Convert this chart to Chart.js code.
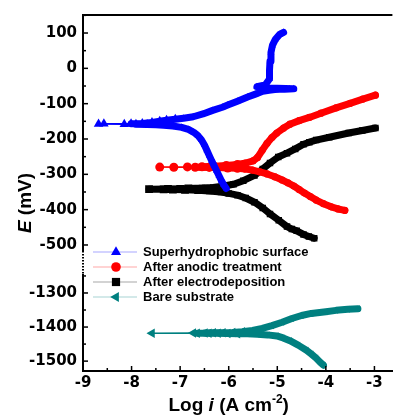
<!DOCTYPE html>
<html><head><meta charset="utf-8">
<script src="https://cdn.jsdelivr.net/npm/chart.js@4/dist/chart.umd.min.js"></script>
<style>html,body{margin:0;padding:0;background:#fff;overflow:hidden}canvas{display:block}</style>
</head><body>
<canvas id="c" width="397" height="417" style="width:397px;height:417px"></canvas>
<script>
// ---------- data ----------
const seriesNames = ['Superhydrophobic surface', 'After anodic treatment', 'After electrodeposition', 'Bare substrate'];
const xTickValues = [-9, -8, -7, -6, -5, -4, -3];
const yTopTickValues = [100, 0, -100, -200, -300, -400, -500];
const yBotTickValues = [-1300, -1400, -1500];

const superLogI = [-6.05,-6.1,-6.15,-6.2,-6.25,-6.3,-6.35,-6.4,-6.45,-6.5,-6.56,-6.63,-6.72,-6.83,-6.97,-7.15,-7.34,-7.5,-7.68,-7.91,-8.15,-8.68,
  -8.57,-8.01,-7.78,-7.58,-7.42,-7.28,-7.1,-6.93,-6.73,-6.53,-6.33,-6.13,-6.02,-5.82,-5.61,-5.45,-5.3,-5.17,-5.05,-4.95,-4.85,-4.75,-4.66,-5.35,-5.42,-5.25,-5.16,-5.16,-5.15,-5.13,-5.1,-5.04,-4.95,-4.87];
const superE = [-340,-330,-318,-304,-290,-276,-262,-247,-232,-217,-203,-191,-181,-173,-167,-163,-161,-160,-159,-158.5,-158,-157.5,
  -157,-156.5,-156,-153,-150,-147,-144,-141,-137,-129,-119,-110,-104,-93,-81,-73,-65,-62,-60,-59.5,-59,-58.5,-58,-55,-52,-47,-30,-5,20,45,65,82,96,102];

const anodicLogI = [-3.61,-3.75,-3.89,-4.05,-4.2,-4.32,-4.44,-4.55,-4.66,-4.78,-4.9,-5.05,-5.21,-5.36,-5.51,-5.67,-5.82,-6.02,-6.22,-6.4,-6.69,-7.13,
  -7.42,-6.85,-6.55,-6.3,-6.05,-5.82,-5.65,-5.5,-5.41,-5.31,-5.21,-5.11,-5.01,-4.87,-4.74,-4.55,-4.34,-4.1,-3.79,-3.5,-3.24,-2.98];
const anodicE = [-402,-398,-392,-383,-373,-363,-353,-343,-333,-324,-316,-307,-299,-293,-288,-285,-283,-282,-281,-280.5,-280,-280,
  -279.5,-279,-278.5,-277,-275,-272,-268,-262,-253,-232,-212,-196,-183,-169,-158,-148,-139,-127,-112,-99,-87,-76];

const electroLogI = [-4.24,-4.35,-4.46,-4.6,-4.7,-4.8,-4.97,-5.15,-5.3,-5.47,-5.65,-5.82,-6.0,-6.16,-6.4,-6.63,-6.9,-7.15,-7.34,-7.64,
  -7.25,-7.0,-6.83,-6.55,-6.32,-6.1,-5.9,-5.7,-5.47,-5.3,-5.15,-4.98,-4.8,-4.63,-4.46,-4.34,-4.2,-3.93,-3.53,-3.25,-2.98];
const electroE = [-481,-476,-470,-460,-455,-448,-430,-412,-395,-379,-367,-359,-354,-350,-347,-345,-344,-343,-342.5,-342,
  -341.5,-341,-340,-339,-337,-333,-328,-318,-303,-285,-268,-251,-240,-228,-215,-209,-203,-195,-183,-176,-169];

const bareLogI = [-4.05,-4.12,-4.2,-4.3,-4.4,-4.57,-4.74,-4.88,-5.01,-5.2,-5.41,-5.62,-5.82,-6.02,-6.22,-6.41,-6.65,-7.58,
  -6.73,-6.49,-6.32,-6.12,-5.92,-5.72,-5.51,-5.31,-5.11,-4.9,-4.7,-4.5,-4.3,-4.0,-3.79,-3.55,-3.34];
const bareE = [-1512,-1503,-1491,-1479,-1468,-1453,-1440,-1432,-1426,-1423,-1421,-1420,-1419.5,-1419,-1418.5,-1418.5,-1418,-1418,
  -1417.5,-1417.5,-1417,-1417,-1416,-1414,-1410,-1404,-1396,-1386,-1375,-1366,-1360,-1355,-1351,-1348,-1346];

// ---------- build ----------
const pts = (xs, ys) => xs.map((x, i) => ({x, y: ys[i]}));
const segWidth = (c) => {
  const ds = c.chart.data.datasets[c.datasetIndex];
  const a = ds.data[c.p0DataIndex].x, b = ds.data[c.p1DataIndex].x;
  return (a < ds.thinLeftOf && b < ds.thinLeftOf) ? 1.5 : 7;
};
function mkDs(label, data, color, style, rBig, rSmall, rot, thin, axis) {
  return {
    label, data, yAxisID: axis, showLine: true,
    borderColor: color, backgroundColor: color, borderWidth: 7,
    borderCapStyle: 'round', borderJoinStyle: 'round',
    pointStyle: style, pointRotation: rot,
    pointRadius: c => (c.raw && c.raw.x < c.dataset.thinLeftOf + 0.8) ? rBig : rSmall,
    legendRadius: rBig,
    pointBackgroundColor: color, pointBorderColor: color, pointBorderWidth: 0,
    thinLeftOf: thin,
    segment: { borderWidth: segWidth, borderColor: color, borderCapStyle: 'round', borderJoinStyle: 'round' }
  };
}
const datasets = [
  mkDs(seriesNames[0], pts(superLogI, superE), '#0000ff', 'triangle', 5.5, 4, 0, -7.85, 'yTop'),
  mkDs(seriesNames[1], pts(anodicLogI, anodicE), '#ff0000', 'circle', 4.5, 3.6, 0, -6.5, 'yTop'),
  mkDs(seriesNames[2], pts(electroLogI, electroE), '#000000', 'rect', 5.5, 4.6, 0, -7.4, 'yTop'),
  mkDs(seriesNames[3], pts(bareLogI, bareE), '#008080', 'triangle', 5.5, 4, -90, -6.45, 'yBot')
];

const tickFont = {family: 'DejaVu Sans', weight: 'bold', size: 15};
const setTicks = vals => s => { s.ticks = vals.map(v => ({value: v})); };

function marker(ctx, style, rot, x, y, r, color) {
  ctx.save(); ctx.fillStyle = color; ctx.translate(x, y); ctx.rotate(rot * Math.PI / 180);
  ctx.beginPath();
  if (style === 'circle') ctx.arc(0, 0, r, 0, Math.PI * 2);
  else if (style === 'rect') { const s = r * Math.SQRT1_2; ctx.rect(-s, -s, 2 * s, 2 * s); }
  else { for (let k = 0; k < 3; k++) { const a = k * 2 * Math.PI / 3; const px = Math.sin(a) * r, py = -Math.cos(a) * r; k ? ctx.lineTo(px, py) : ctx.moveTo(px, py); } ctx.closePath(); }
  ctx.fill(); ctx.restore();
}
function richText(ctx, parts, x, y) {
  let w = 0;
  parts.forEach(p => { ctx.font = p.font; w += ctx.measureText(p.t).width; });
  let cx = x - w / 2;
  parts.forEach(p => { ctx.font = p.font; ctx.fillText(p.t, cx, y - (p.up || 0)); cx += ctx.measureText(p.t).width; });
}

const decor = {
  id: 'decor',
  afterDraw(chart) {
    const ctx = chart.ctx, ca = chart.chartArea;
    const sx = chart.scales.x, st = chart.scales.yTop, sb = chart.scales.yBot;
    ctx.save();
    ctx.strokeStyle = '#000';
    // top frame
    ctx.lineWidth = 2;
    ctx.beginPath(); ctx.moveTo(ca.left - 1, ca.top); ctx.lineTo(ca.right, ca.top); ctx.stroke();
    // inward ticks (major + minor)
    ctx.lineWidth = 1.5;
    const yT = (s, v, len) => { const y = s.getPixelForValue(v); ctx.beginPath(); ctx.moveTo(ca.left, y); ctx.lineTo(ca.left + len, y); ctx.stroke(); };
    const xT = (v, len) => { const x = sx.getPixelForValue(v); ctx.beginPath(); ctx.moveTo(x, ca.bottom); ctx.lineTo(x, ca.bottom - len); ctx.stroke(); };
    yTopTickValues.forEach(v => { yT(st, v, 5); yT(st, v + 50, 3); });
    yBotTickValues.forEach(v => { yT(sb, v, 5); yT(sb, v + 50, 3); });
    xTickValues.forEach(v => { xT(v, 5); if (v < -3) xT(v + 0.5, 3); });
    // axis break
    ctx.fillStyle = '#fff';
    ctx.fillRect(ca.left - 3, 251, 6, 23);
    ctx.setLineDash([1.5, 1.5]); ctx.lineWidth = 2;
    ctx.beginPath(); ctx.moveTo(ca.left, 251); ctx.lineTo(ca.left, 274); ctx.stroke();
    ctx.setLineDash([]);
    // legend
    ctx.textBaseline = 'middle'; ctx.textAlign = 'left';
    chart.data.datasets.forEach((ds, i) => {
      const y = 252 + i * 15;
      ctx.save(); ctx.globalAlpha = 0.35; ctx.strokeStyle = ds.borderColor; ctx.lineWidth = 1;
      ctx.beginPath(); ctx.moveTo(93, y); ctx.lineTo(137, y); ctx.stroke(); ctx.restore();
      marker(ctx, ds.pointStyle, ds.pointRotation, 116, y, ds.legendRadius + 0.3, ds.borderColor);
      ctx.fillStyle = '#000'; ctx.font = 'bold 13px "Liberation Sans", Arial, sans-serif';
      ctx.fillText(ds.label, 143, y + 0.5);
    });
    // axis titles
    ctx.fillStyle = '#000'; ctx.textBaseline = 'alphabetic';
    const B = 'bold 19px "Liberation Sans", Arial, sans-serif', I = 'italic bold 19px "Liberation Sans", Arial, sans-serif', S = 'bold 12px "Liberation Sans", Arial, sans-serif';
    richText(ctx, [{t: 'Log ', font: B}, {t: 'i', font: I}, {t: ' (A cm', font: B}, {t: '-2', font: S, up: 8}, {t: ')', font: B}], (sx.getPixelForValue(-9) + sx.getPixelForValue(-3)) / 2, 411);
    ctx.save(); ctx.translate(31, 203); ctx.rotate(-Math.PI / 2);
    richText(ctx, [{t: 'E', font: I}, {t: ' (mV)', font: B}], 0, 0);
    ctx.restore();
    ctx.restore();
  }
};

new Chart(document.getElementById('c'), {
  type: 'scatter',
  data: { datasets },
  options: {
    responsive: false, animation: false, devicePixelRatio: 1,
    layout: { padding: { top: 15, left: 0, right: 0, bottom: 0 } },
    plugins: { legend: { display: false }, tooltip: { enabled: false } },
    scales: {
      x: {
        type: 'linear', position: 'bottom', min: -9, max: -2.63,
        afterBuildTicks: setTicks(xTickValues),
        afterFit: s => { s.height = 46; },
        grid: { display: false, drawTicks: false },
        border: { display: true, color: '#000', width: 2 },
        ticks: { font: tickFont, color: '#000', padding: 3, autoSkip: false, maxRotation: 0, callback: v => String(v) }
      },
      yBot: {
        type: 'linear', position: 'left', stack: 'ystack', stackWeight: 108, min: -1529, max: -1212,
        afterBuildTicks: setTicks(yBotTickValues),
        afterFit: s => { s.width = 83; },
        grid: { display: false, drawTicks: false },
        border: { display: true, color: '#000', width: 2 },
        ticks: { font: tickFont, color: '#000', padding: 6, autoSkip: false, callback: v => String(v) }
      },
      yTop: {
        type: 'linear', position: 'left', stack: 'ystack', stackWeight: 248, min: -551, max: 151,
        afterBuildTicks: setTicks(yTopTickValues),
        afterFit: s => { s.width = 83; },
        grid: { display: false, drawTicks: false },
        border: { display: true, color: '#000', width: 2 },
        ticks: { font: tickFont, color: '#000', padding: 6, autoSkip: false, callback: v => String(v) }
      }
    }
  },
  plugins: [decor]
});
</script>
</body></html>
